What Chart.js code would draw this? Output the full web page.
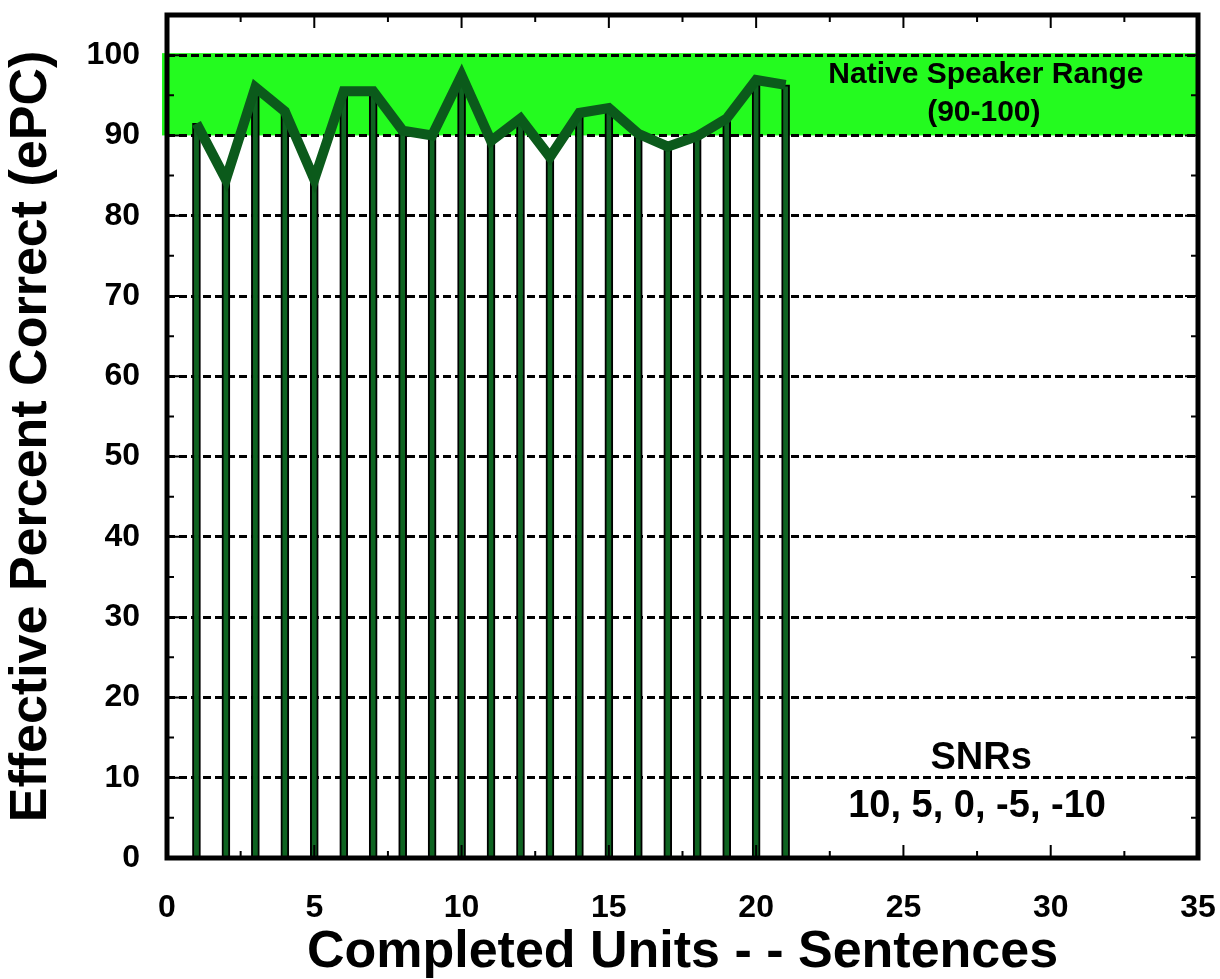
<!DOCTYPE html>
<html>
<head>
<meta charset="utf-8">
<title>Effective Percent Correct</title>
<script src="https://cdn.jsdelivr.net/npm/chart.js@4/dist/chart.umd.min.js"></script>
<style>
    body { margin: 0; background: #fff; }
    #wrap { width: 1220px; height: 979px; }
</style>
</head>
<body>
<div id="wrap"><canvas id="epcChart" width="1220" height="979"></canvas></div>
<script>
// Data
const units = [1, 2, 3, 4, 5, 6, 7, 8, 9, 10, 11, 12, 13, 14, 15, 16, 17, 18, 19, 20, 21];
const epc = [91.5, 84.5, 96, 93, 84.5, 95.5, 95.5, 90.6, 90, 97.5, 89.3, 92.1, 87.3, 92.8, 93.4, 90.2, 88.6, 89.9, 92.1, 96.9, 96.3];
const xTicks = [0, 5, 10, 15, 20, 25, 30, 35];
const yTicks = [0, 10, 20, 30, 40, 50, 60, 70, 80, 90, 100];
const nativeRange = [90, 100];

const FONT = "'Liberation Sans', Arial, sans-serif";

// Annotation texts (data coordinates)
const notes = [
    { text: 'Native Speaker Range', x: 27.8, y: 97.5, size: 30 },
    { text: '(90-100)', x: 27.73, y: 92.8, size: 30 },
    { text: 'SNRs', x: 27.64, y: 12.4, size: 38 },
    { text: '10, 5, 0, -5, -10', x: 27.5, y: 6.4, size: 38 }
];

const points = units.map((u, i) => ({ x: u, y: epc[i] }));

// green band behind the grid
const bandPlugin = {
    id: 'band',
    beforeDraw(chart) {
        const { ctx, chartArea, scales } = chart;
        const yTop = scales.y.getPixelForValue(nativeRange[1]) - 2;
        const yBot = scales.y.getPixelForValue(nativeRange[0]);
        ctx.save();
        ctx.fillStyle = '#24fb1f';
        ctx.fillRect(chartArea.left - 5, yTop, chartArea.right - chartArea.left + 5, yBot - yTop);
        ctx.restore();
    }
};

// black frame, inner tick marks and text notes
const framePlugin = {
    id: 'frame',
    afterDraw(chart) {
        const { ctx, chartArea: a, scales } = chart;
        ctx.save();
        ctx.strokeStyle = '#000';
        ctx.lineWidth = 2;
        ctx.beginPath();
        for (let v = 0; v <= 35; v += 2.5) {
            const px = scales.x.getPixelForValue(v);
            const len = v % 5 === 0 ? 13 : 7;
            ctx.moveTo(px, a.bottom); ctx.lineTo(px, a.bottom - len);
            ctx.moveTo(px, a.top); ctx.lineTo(px, a.top + len);
        }
        for (let v = 5; v <= 100; v += 5) {
            const py = scales.y.getPixelForValue(v);
            const len = v % 10 === 0 ? 13 : 7;
            ctx.moveTo(a.left, py); ctx.lineTo(a.left + len, py);
            ctx.moveTo(a.right, py); ctx.lineTo(a.right - len, py);
        }
        ctx.stroke();

        ctx.lineWidth = 5;
        ctx.strokeRect(a.left, a.top, a.right - a.left, a.bottom - a.top);

        ctx.fillStyle = '#000';
        ctx.textAlign = 'center';
        ctx.textBaseline = 'middle';
        notes.forEach(n => {
            ctx.font = `bold ${n.size}px ${FONT}`;
            ctx.fillText(n.text, scales.x.getPixelForValue(n.x), scales.y.getPixelForValue(n.y));
        });
        ctx.restore();
    }
};

const ctx = document.getElementById('epcChart').getContext('2d');
new Chart(ctx, {
    type: 'bar',
    data: {
        datasets: [{
            type: 'line',
            data: points,
            borderColor: '#0b5a1b',
            borderWidth: 10,
            borderJoinStyle: 'miter',
            pointRadius: 0,
            fill: false,
            tension: 0,
            order: 0
        }, {
            type: 'bar',
            data: points,
            backgroundColor: '#0e6421',
            borderColor: '#000',
            borderWidth: 2,
            barThickness: 8,
            order: 1
        }]
    },
    options: {
        responsive: false,
        animation: false,
        layout: { padding: { left: 0, top: 15, right: 22, bottom: 0 } },
        plugins: {
            legend: { display: false },
            tooltip: { enabled: false }
        },
        scales: {
            x: {
                type: 'linear',
                min: 0,
                max: 35,
                offset: false,
                afterFit: s => { s.height = 121; s.paddingLeft = 0; s.paddingRight = 0; },
                afterBuildTicks: s => { s.ticks = xTicks.map(v => ({ value: v })); },
                grid: { display: false, drawTicks: false, offset: false },
                border: { display: false },
                ticks: {
                    color: '#000',
                    padding: 31,
                    maxRotation: 0,
                    font: { family: FONT, size: 32, weight: 'bold' }
                },
                title: {
                    display: true,
                    text: 'Completed Units - - Sentences',
                    color: '#000',
                    padding: 0,
                    font: { family: FONT, size: 52, weight: 'bold', lineHeight: 1 }
                }
            },
            y: {
                min: 0,
                max: 105,
                afterFit: s => { s.width = 167; s.paddingTop = 0; s.paddingBottom = 0; },
                afterBuildTicks: s => { s.ticks = yTicks.map(v => ({ value: v })); },
                grid: {
                    drawTicks: false,
                    lineWidth: 3,
                    color: c => (c.tick && c.tick.value > 0) ? '#000' : 'rgba(0,0,0,0)'
                },
                border: { display: false, dash: [8, 4] },
                ticks: {
                    color: '#000',
                    padding: 27,
                    font: { family: FONT, size: 32, weight: 'bold' }
                },
                title: {
                    display: true,
                    text: 'Effective Percent Correct (ePC)',
                    color: '#000',
                    padding: 0,
                    font: { family: FONT, size: 52, weight: 'bold', lineHeight: 1.2 }
                }
            }
        }
    },
    plugins: [bandPlugin, framePlugin]
});
</script>
</body>
</html>
